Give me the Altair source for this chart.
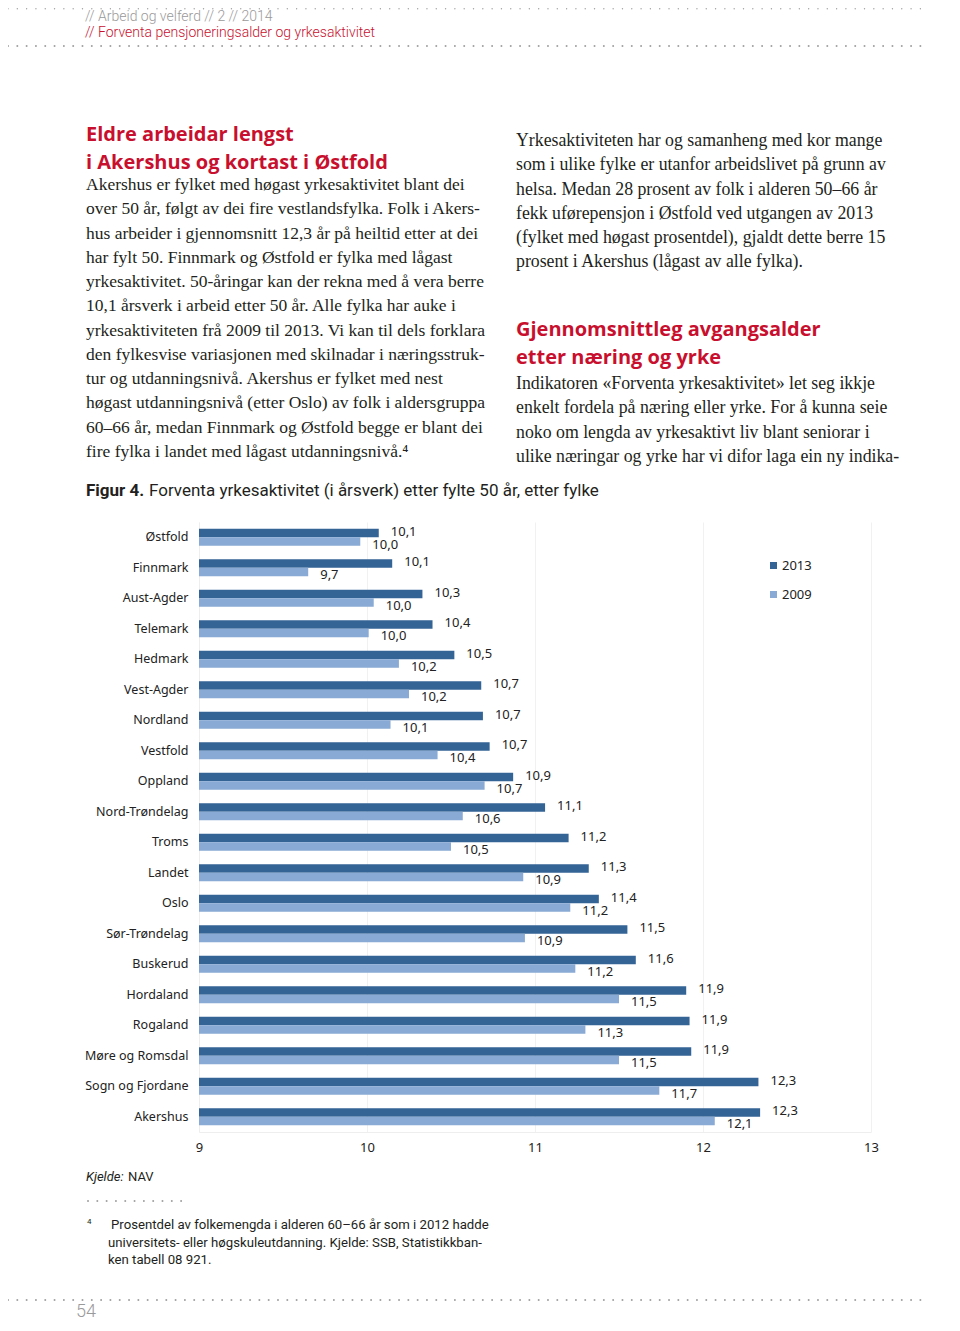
import altair as alt
import pandas as pd

# ---------------- data ----------------
fylke = ["Østfold", "Finnmark", "Aust-Agder", "Telemark", "Hedmark", "Vest-Agder",
         "Nordland", "Vestfold", "Oppland", "Nord-Trøndelag", "Troms", "Landet", "Oslo",
         "Sør-Trøndelag", "Buskerud", "Hordaland", "Rogaland", "Møre og Romsdal",
         "Sogn og Fjordane", "Akershus"]
# bar lengths (years of work after 50)
v2013 = [10.07, 10.15, 10.33, 10.39, 10.52, 10.68, 10.69, 10.73, 10.87, 11.06, 11.20,
         11.32, 11.38, 11.55, 11.60, 11.90, 11.92, 11.93, 12.33, 12.34]
v2009 = [9.96, 9.65, 10.04, 10.01, 10.19, 10.25, 10.14, 10.42, 10.70, 10.57, 10.50,
         10.93, 11.21, 10.94, 11.24, 11.50, 11.30, 11.50, 11.74, 12.07]
# value labels as printed
lab2013 = ["10,1", "10,1", "10,3", "10,4", "10,5", "10,7", "10,7", "10,7", "10,9", "11,1",
           "11,2", "11,3", "11,4", "11,5", "11,6", "11,9", "11,9", "11,9", "12,3", "12,3"]
lab2009 = ["10,0", "9,7", "10,0", "10,0", "10,2", "10,2", "10,1", "10,4", "10,7", "10,6",
           "10,5", "10,9", "11,2", "10,9", "11,2", "11,5", "11,3", "11,5", "11,7", "12,1"]
years = ["2013", "2009"]
x_ticks = [9, 10, 11, 12, 13]

rows = []
for f, a, b, la, lb in zip(fylke, v2013, v2009, lab2013, lab2009):
    rows.append({"fylke": f, "year": "2013", "value": a, "label": la})
    rows.append({"fylke": f, "year": "2009", "value": b, "label": lb})
df = pd.DataFrame(rows)

# ---------------- layout ----------------
DARK = "#346496"
LIGHT = "#88aad4"
RED = "#c8102e"
GREY = "#9a9a9a"
INK = "#231f20"
OX, OY = 199, 522          # page position of plot origin
W, H = 672, 610


def X(px):
    return px - OX


def Y(py):
    return py - OY


one = pd.DataFrame({"a": [0]})

xs = alt.Scale(domain=[9, 13], nice=False, zero=False)
ys = alt.Scale(domain=fylke, paddingInner=0.44, paddingOuter=0.22)
yo = alt.Scale(domain=years, paddingInner=0, paddingOuter=0)

bars = alt.Chart(df).mark_bar().encode(
    x=alt.X("value:Q", scale=xs,
            axis=alt.Axis(values=x_ticks, format="d", title=None, ticks=False,
                          labelFontSize=13, labelColor="#222", labelPadding=9,
                          labelFont="Noto Sans", labelFlush=False, grid=True,
                          gridColor="#f1f1f1", domainColor="#eeeeee")),
    x2=alt.datum(9),
    y=alt.Y("fylke:N", sort=fylke, scale=ys,
            axis=alt.Axis(title=None, ticks=False, labelPadding=11, labelFontSize=12.5,
                          labelColor="#222", labelFont="Noto Sans",
                          domainColor="#eeeeee")),
    yOffset=alt.YOffset("year:N", sort=years, scale=yo),
    color=alt.Color("year:N", sort=years, scale=alt.Scale(domain=years, range=[DARK, LIGHT]),
                    legend=alt.Legend(title=None, orient="none", legendX=568, legendY=37,
                                      symbolType="square", symbolSize=49, labelFontSize=13,
                                      labelFont="Noto Sans", labelColor="#222",
                                      rowPadding=15, labelOffset=2, padding=0,
                                      symbolStrokeWidth=0)),
)

lab13 = alt.Chart(df).transform_filter(alt.datum.year == "2013").mark_text(
    align="left", baseline="middle", dx=12, dy=-1, fontSize=13, font="Noto Sans", color="#222"
).encode(
    x=alt.X("value:Q", scale=xs),
    y=alt.Y("fylke:N", sort=fylke, scale=ys),
    yOffset=alt.YOffset("year:N", sort=years, scale=yo),
    text="label:N",
)
lab09 = alt.Chart(df).transform_filter(alt.datum.year == "2009").mark_text(
    align="left", baseline="middle", dx=12, dy=3, fontSize=13, font="Noto Sans", color="#222"
).encode(
    x=alt.X("value:Q", scale=xs),
    y=alt.Y("fylke:N", sort=fylke, scale=ys),
    yOffset=alt.YOffset("year:N", sort=years, scale=yo),
    text="label:N",
)


def txt(text, px, py, size, color=INK, font="Roboto", weight="normal", style="normal",
        lh=None):
    kw = dict(text=text, align="left", baseline="alphabetic", fontSize=size, font=font,
              color=color, fontWeight=weight, fontStyle=style)
    if lh is not None:
        kw["lineHeight"] = lh
    return alt.Chart(one).mark_text(**kw).encode(x=alt.value(X(px)), y=alt.value(Y(py)))


def dots(px1, px2, py, w=2):
    return alt.Chart(one).mark_rule(strokeDash=[0.01, 9.3], strokeCap="round",
                                    strokeWidth=w, color="#a0a0a0").encode(
        x=alt.value(X(px1)), x2=alt.value(X(px2)), y=alt.value(Y(py)))


left_body = [
    "Akershus er fylket med høgast yrkesaktivitet blant dei",
    "over 50 år, følgt av dei fire vestlandsfylka. Folk i Akers-",
    "hus arbeider i gjennomsnitt 12,3 år på heiltid etter at dei",
    "har fylt 50. Finnmark og Østfold er fylka med lågast",
    "yrkesaktivitet. 50-åringar kan der rekna med å vera berre",
    "10,1 årsverk i arbeid etter 50 år. Alle fylka har auke i",
    "yrkesaktiviteten frå 2009 til 2013. Vi kan til dels forklara",
    "den fylkesvise variasjonen med skilnadar i næringsstruk-",
    "tur og utdanningsnivå. Akershus er fylket med nest",
    "høgast utdanningsnivå (etter Oslo) av folk i aldersgruppa",
    "60–66 år, medan Finnmark og Østfold begge er blant dei",
    "fire fylka i landet med lågast utdanningsnivå.⁴",
]
right_body1 = [
    "Yrkesaktiviteten har og samanheng med kor mange",
    "som i ulike fylke er utanfor arbeidslivet på grunn av",
    "helsa. Medan 28 prosent av folk i alderen 50–66 år",
    "fekk uførepensjon i Østfold ved utgangen av 2013",
    "(fylket med høgast prosentdel), gjaldt dette berre 15",
    "prosent i Akershus (lågast av alle fylka).",
]
right_body2 = [
    "Indikatoren «Forventa yrkesaktivitet» let seg ikkje",
    "enkelt fordela på næring eller yrke. For å kunna seie",
    "noko om lengda av yrkesaktivt liv blant seniorar i",
    "ulike næringar og yrke har vi difor laga ein ny indika-",
]

SERIF = "Liberation Serif"
HEAD = "Open Sans"
layers = [
    bars, lab13, lab09,
    dots(8, 928, 8.7, w=1.4),
    dots(8, 928, 46),
    txt("//  Arbeid og velferd  //  2  //  2014", 85, 21, 14, color=GREY, weight=300),
    txt("//  Forventa pensjoneringsalder og yrkesaktivitet", 85, 36.5, 14, color=RED,
        weight=300),
    txt(["Eldre arbeidar lengst", "i Akershus og kortast i Østfold"], 86, 141, 20,
        color=RED, font=HEAD, weight="bold", lh=28),
    txt(left_body, 86, 190, 17.5, font=SERIF, lh=24.27),
    txt(right_body1, 516, 146, 17.8, font=SERIF, lh=24.27),
    txt(["Gjennomsnittleg avgangsalder", "etter næring og yrke"], 516, 336, 20,
        color=RED, font=HEAD, weight="bold", lh=28),
    txt(right_body2, 516, 389, 17.8, font=SERIF, lh=24.27),
    txt("Figur 4.", 86, 496, 17, weight="bold"),
    txt("Forventa yrkesaktivitet (i årsverk) etter fylte 50 år, etter fylke", 149, 496, 17),
    txt("Kjelde:", 86, 1181, 13, style="italic"),
    txt("NAV", 128, 1181, 13),
    dots(88, 183, 1201),
    txt("4", 87, 1224, 8),
    txt("Prosentdel av folkemengda i alderen 60–66 år som i 2012 hadde", 111, 1229, 13.2),
    txt(["universitets- eller høgskuleutdanning. Kjelde: SSB, Statistikkban-",
         "ken tabell 08 921."], 108, 1246.5, 13.2, lh=17.5),
    dots(8, 928, 1300),
    txt("54", 76, 1317, 18, color=GREY, weight=300),
]

chart = alt.layer(*layers).properties(
    width=W, height=H,
    autosize=alt.AutoSizeParams(type="none"),
    padding={"left": OX - 8, "top": OY - 8, "right": 944 - (OX - 8) - W,
             "bottom": 1313 - (OY - 8) - H},
).configure_view(stroke=None)

chart.save("out.html", embed_options={"renderer": "svg", "actions": False})
